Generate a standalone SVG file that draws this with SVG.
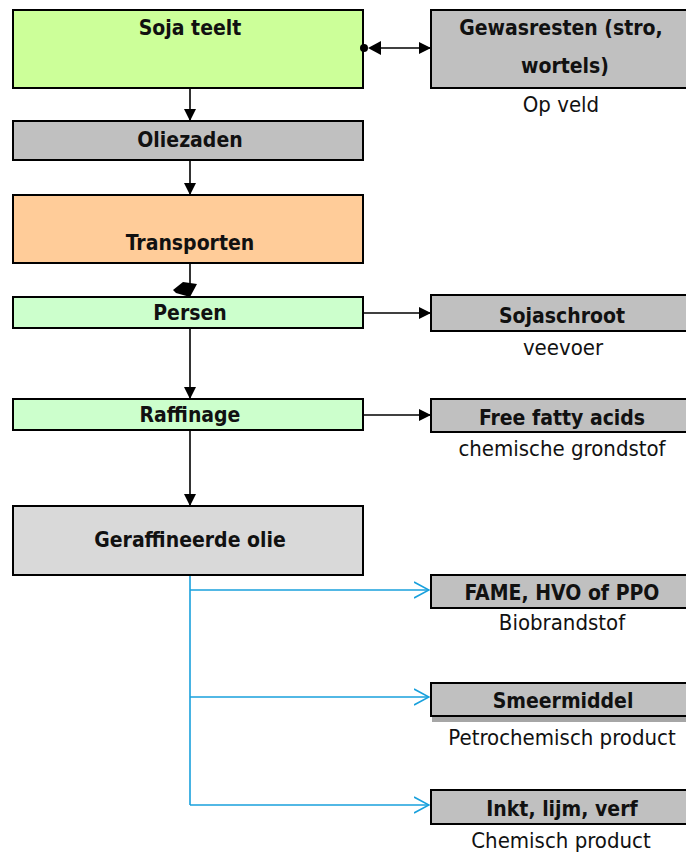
<svg xmlns="http://www.w3.org/2000/svg" width="686" height="854" viewBox="0 0 686 854">
<defs>
<style>
.box{stroke:#000;stroke-width:2}
.t{font-family:"DejaVu Sans Condensed","DejaVu Sans",sans-serif;font-size:22px;text-anchor:middle;fill:#111}
.b{font-weight:bold;font-size:21px}
.ln{stroke:#000;stroke-width:1.6;fill:none}
.bl{stroke:#18a0dc;stroke-width:1.6;fill:none}
</style>
<marker id="ah" markerWidth="12" markerHeight="12" refX="11" refY="6" orient="auto" markerUnits="userSpaceOnUse">
<path d="M0,0 L12,6 L0,12 Z" fill="#000"/>
</marker>
<marker id="oh" markerWidth="16" markerHeight="18" refX="15" refY="9" orient="auto" markerUnits="userSpaceOnUse">
<path d="M0,1 L15,9 L0,17" fill="none" stroke="#18a0dc" stroke-width="1.6"/>
</marker>
</defs>
<rect width="686" height="854" fill="#fff"/>

<g id="soja-teelt">
<rect class="box" x="13" y="10" width="350" height="78" fill="#ccff99"/>
<text class="t b" x="190" y="35">Soja teelt</text>
</g>
<g id="gewasresten">
<rect class="box" x="431" y="10" width="270" height="78" fill="#c0c0c0"/>
<text class="t b" x="561" y="35">Gewasresten (stro,</text>
<text class="t b" x="565" y="73">wortels)</text>
<text class="t" x="561" y="112">Op veld</text>
</g>
<g id="oliezaden">
<rect class="box" x="13" y="121" width="350" height="39" fill="#c0c0c0"/>
<text class="t b" x="190" y="147">Oliezaden</text>
</g>
<g id="transporten">
<rect class="box" x="13" y="195" width="350" height="68" fill="#ffcc99"/>
<text class="t b" x="190" y="250">Transporten</text>
</g>
<g id="persen">
<rect class="box" x="13" y="297" width="350" height="31" fill="#ccffcc"/>
<text class="t b" x="190" y="320">Persen</text>
</g>
<g id="sojaschroot">
<rect class="box" x="431" y="295" width="270" height="36" fill="#c0c0c0"/>
<text class="t b" x="562" y="323">Sojaschroot</text>
<text class="t" x="563" y="355">veevoer</text>
</g>
<g id="raffinage">
<rect class="box" x="13" y="399" width="350" height="31" fill="#ccffcc"/>
<text class="t b" x="190" y="422">Raffinage</text>
</g>
<g id="free-fatty-acids">
<rect class="box" x="431" y="399" width="270" height="33" fill="#c0c0c0"/>
<text class="t b" x="562" y="425">Free fatty acids</text>
<text class="t" x="562" y="456">chemische grondstof</text>
</g>
<g id="geraffineerde-olie">
<rect class="box" x="13" y="506" width="350" height="69" fill="#d9d9d9"/>
<text class="t b" x="190" y="547">Geraffineerde olie</text>
</g>
<g id="fame">
<rect class="box" x="431" y="575" width="270" height="33" fill="#c0c0c0"/>
<text class="t b" x="562" y="600">FAME, HVO of PPO</text>
<text class="t" x="562" y="630">Biobrandstof</text>
</g>
<g id="smeermiddel">
<rect x="432" y="716" width="260" height="6" fill="#a6a6a6"/>
<rect class="box" x="431" y="683" width="270" height="33" fill="#c0c0c0"/>
<text class="t b" x="563" y="708">Smeermiddel</text>
<text class="t" x="562" y="745">Petrochemisch product</text>
</g>
<g id="inkt">
<rect class="box" x="431" y="790" width="270" height="34" fill="#c0c0c0"/>
<text class="t b" x="562" y="816">Inkt, lijm, verf</text>
<text class="t" x="561" y="848">Chemisch product</text>
</g>

<g id="connectors">
<circle cx="364" cy="48" r="4" fill="#000"/>
<path d="M368,48 L381,41 L381,55 Z" fill="#000"/>
<line class="ln" x1="380" y1="48" x2="430" y2="48" marker-end="url(#ah)"/>
<line class="ln" x1="190" y1="89" x2="190" y2="120" marker-end="url(#ah)"/>
<line class="ln" x1="190" y1="161" x2="190" y2="194" marker-end="url(#ah)"/>
<line class="ln" x1="190" y1="264" x2="190" y2="286"/>
<path d="M173,290 L183,282 L197,284 L190,297 L176,293 Z" fill="#000"/>
<line class="ln" x1="364" y1="313" x2="430" y2="313" marker-end="url(#ah)"/>
<line class="ln" x1="190" y1="329" x2="190" y2="398" marker-end="url(#ah)"/>
<line class="ln" x1="364" y1="415" x2="430" y2="415" marker-end="url(#ah)"/>
<line class="ln" x1="190" y1="431" x2="190" y2="505" marker-end="url(#ah)"/>
<path class="bl" d="M190,576 L190,805"/>
<line class="bl" x1="190" y1="590" x2="429" y2="590" marker-end="url(#oh)"/>
<line class="bl" x1="190" y1="697" x2="429" y2="697" marker-end="url(#oh)"/>
<line class="bl" x1="190" y1="805" x2="429" y2="805" marker-end="url(#oh)"/>
</g>
</svg>
